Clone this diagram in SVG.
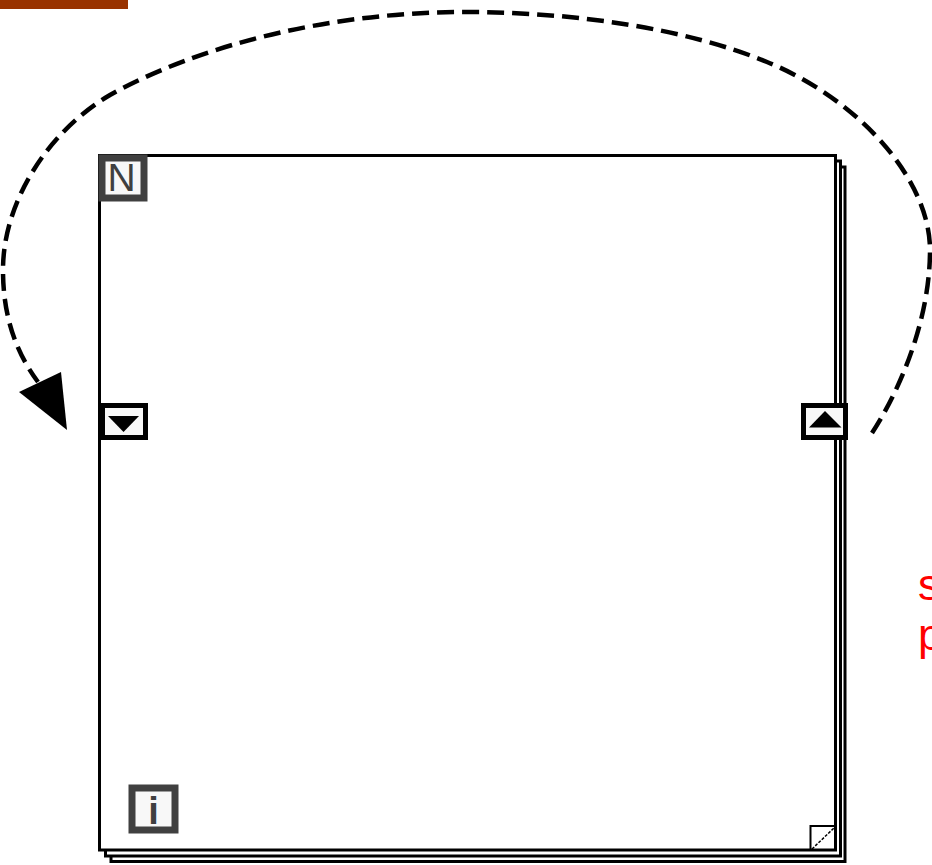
<svg xmlns="http://www.w3.org/2000/svg" width="932" height="865" viewBox="0 0 932 865">
  <style>
    .edge { fill: #ffffff; stroke: #000000; stroke-width: 3; }
    .term { fill: #f8f8f8; stroke: #404040; stroke-width: 7; }
    .term-text { fill: #404040; font-family: "Liberation Sans", Arial, sans-serif; text-anchor: middle; }
    .sr { fill: #f8f8f8; stroke: #000000; stroke-width: 5; }
    .wire { fill: none; stroke: #000000; stroke-width: 4.5; stroke-dasharray: 17 8; }
    .label { fill: #ff0000; font-family: "Liberation Sans", Arial, sans-serif; font-size: 44px; }
  </style>
  <rect x="0" y="0" width="128" height="9" fill="#993300"/>
  <g id="for-loop">
    <rect class="edge" x="111" y="167" width="734" height="694.5"/>
    <rect class="edge" x="105.5" y="161" width="735" height="695"/>
    <rect class="edge" x="99.5" y="155.5" width="736" height="694.5"/>
    <g id="page-curl">
      <path d="M810.5,850 L810.5,826 L835.5,826" fill="none" stroke="#000" stroke-width="2"/>
      <path d="M812,849 L835,827" fill="none" stroke="#000" stroke-width="1.5" stroke-dasharray="3 1.5"/>
    </g>
  </g>
  <g id="count-terminal">
    <rect class="term" x="102" y="158" width="42" height="40"/>
    <text class="term-text" x="121.5" y="191" font-size="39">N</text>
  </g>
  <g id="iteration-terminal">
    <rect class="term" x="132" y="788" width="43" height="42"/>
    <text class="term-text" x="153.5" y="824" font-size="38" font-weight="bold">i</text>
  </g>
  <g id="shift-register-left">
    <rect class="sr" x="102.5" y="405.5" width="43" height="32"/>
    <polygon points="108,416 139,416 123.5,432" fill="#000"/>
  </g>
  <g id="shift-register-right">
    <rect class="sr" x="803.5" y="405.5" width="42" height="32"/>
    <polygon points="809,427.5 841.5,427.5 825,411" fill="#000"/>
  </g>
  <g id="connectors">
    <path class="wire" d="M872,433 C900,390 930,320 930,250 C930,180 860,100 767,62 C690,30 580,12 465,12 C330,12 200,45 110,95 C50,130 3,200 3,270 C3,320 18,355 38,382"/>
    <polygon points="19,392 61,372 67,430" fill="#000"/>
  </g>
  <g id="labels">
    <text class="label" x="918" y="600">s</text>
    <text class="label" x="918" y="650">p</text>
  </g>
</svg>
